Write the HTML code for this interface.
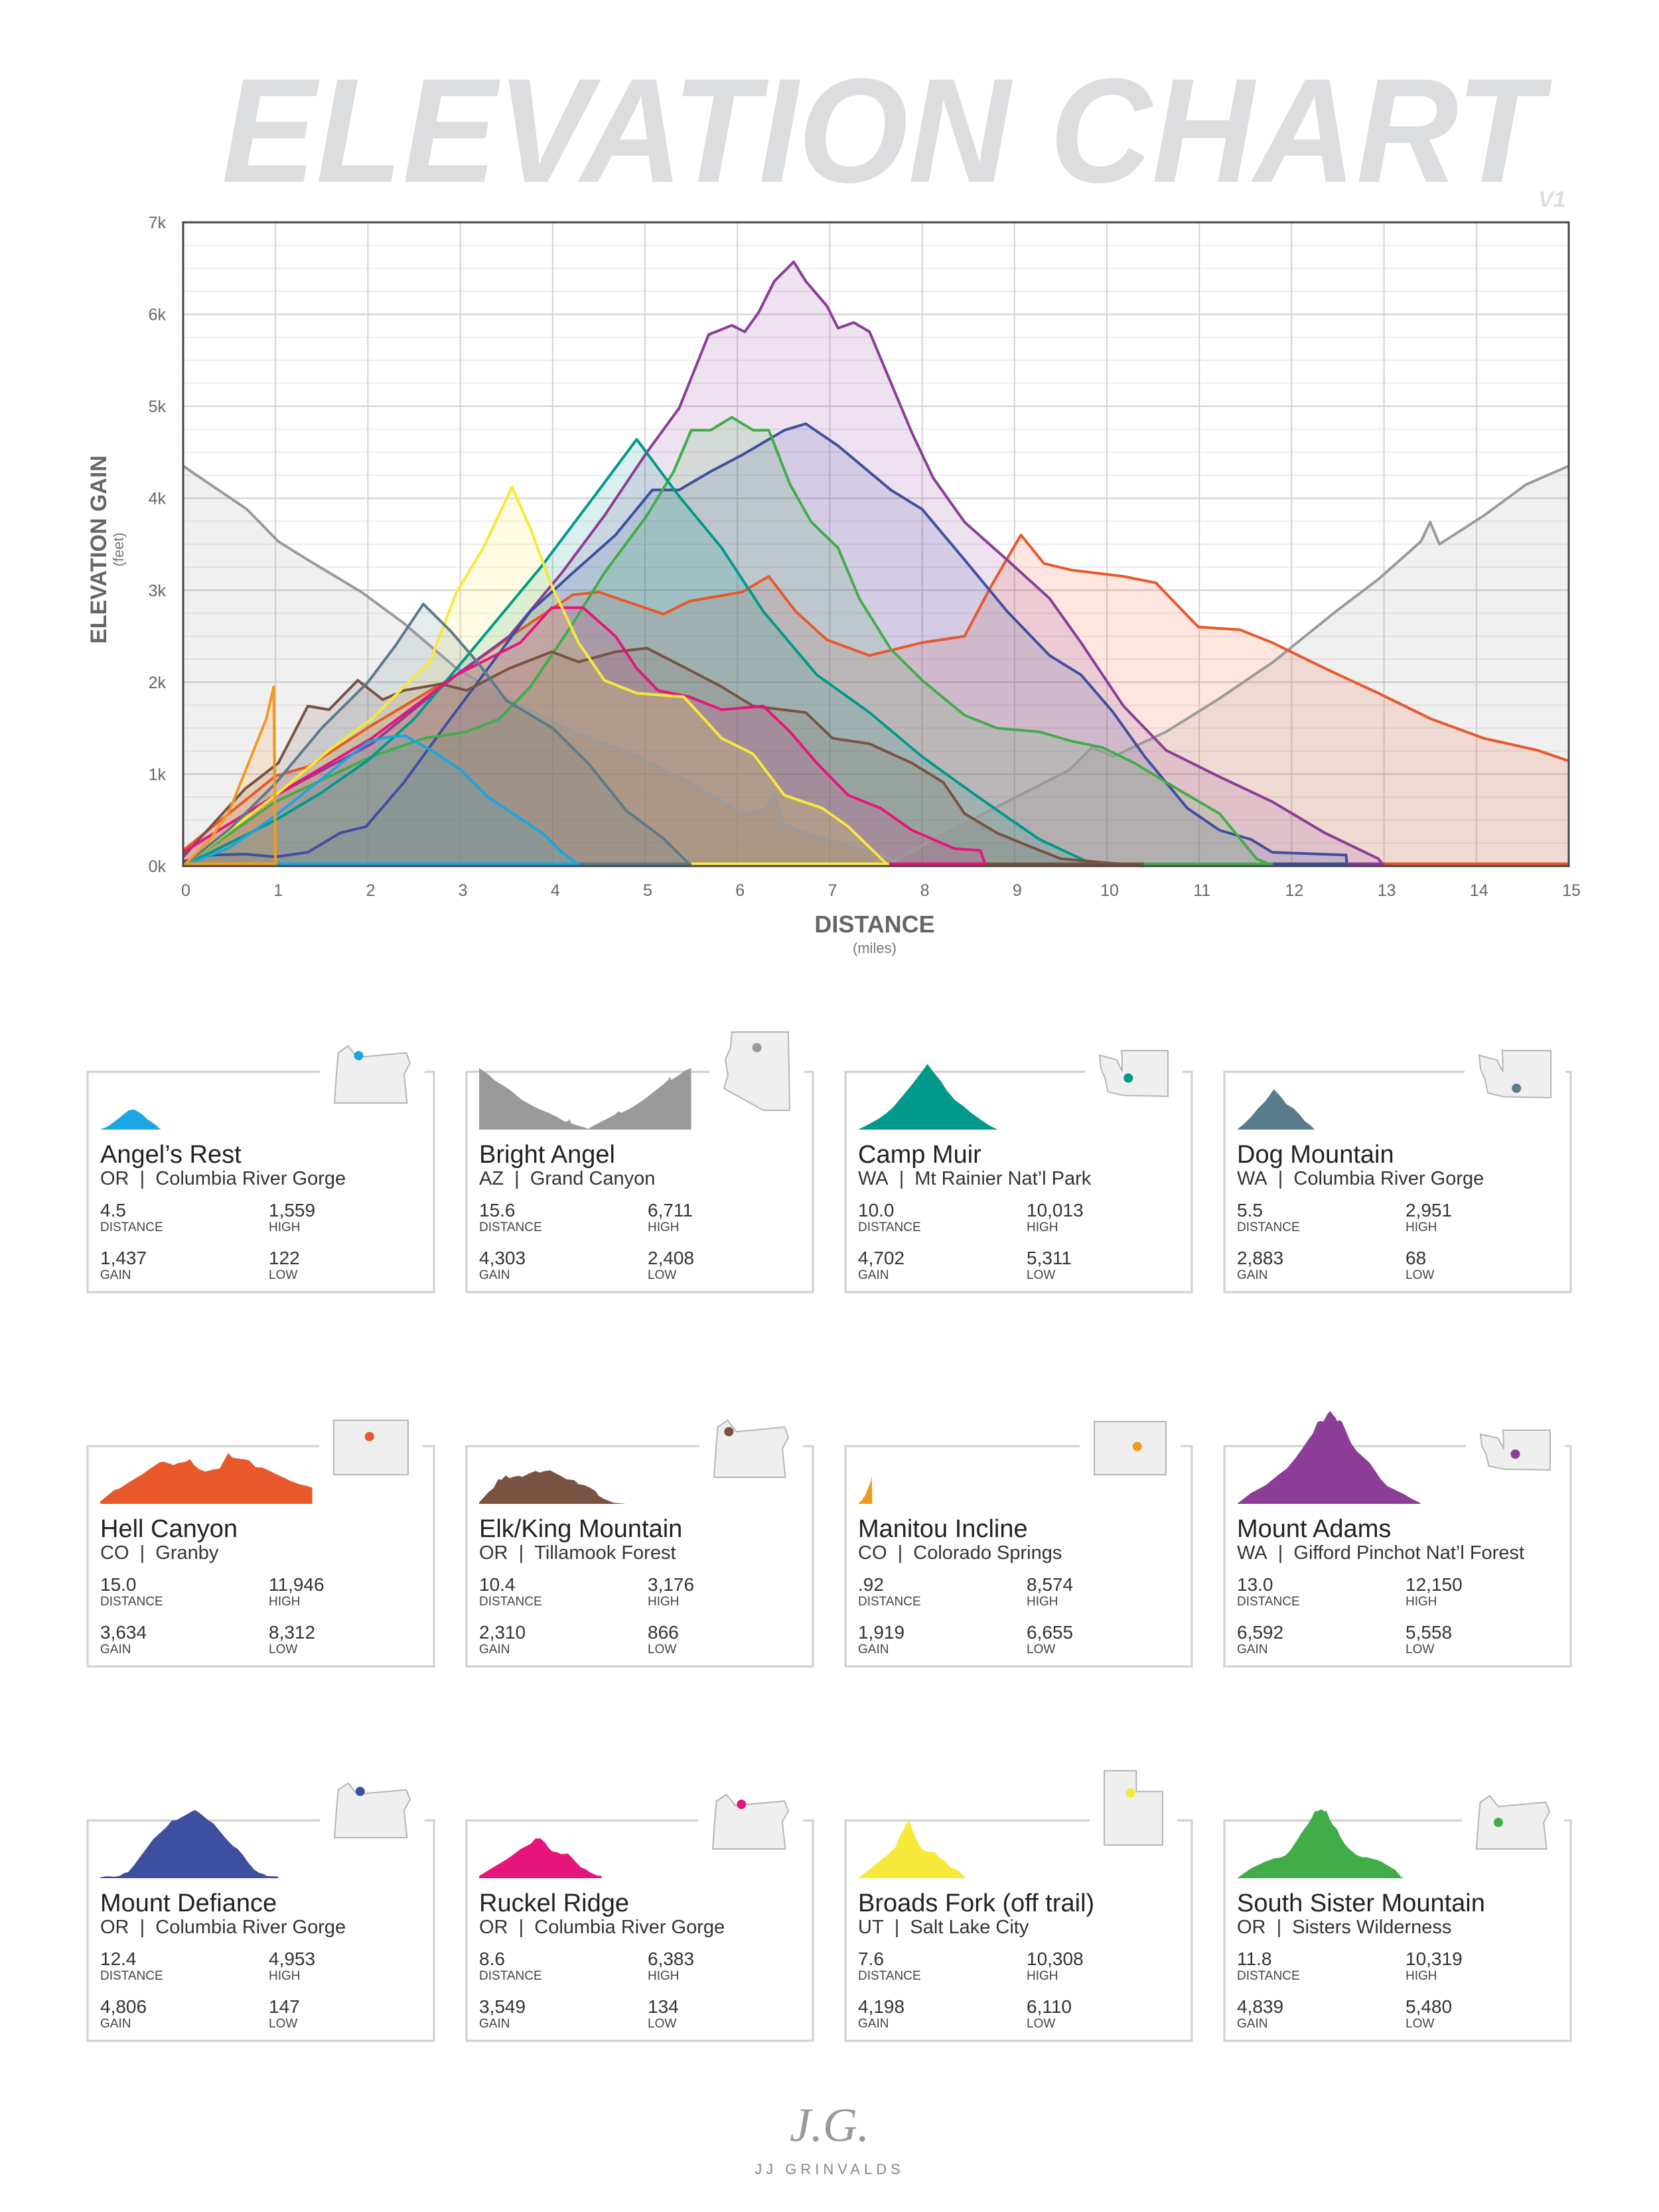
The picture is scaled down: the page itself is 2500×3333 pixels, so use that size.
<!DOCTYPE html>
<html><head><meta charset="utf-8"><title>Elevation Chart</title>
<style>
html,body{margin:0;padding:0;background:#fff;}
svg{display:block;font-family:"Liberation Sans",sans-serif;}
</style></head>
<body>
<svg id="root" width="2500" height="3333" viewBox="0 0 2500 3333" xmlns="http://www.w3.org/2000/svg">
<text x="334" y="274" font-size="224" font-weight="bold" font-style="italic" fill="#dcdddf" textLength="1990" lengthAdjust="spacingAndGlyphs">ELEVATION CHART</text>
<text x="2318" y="312" font-size="34" font-weight="bold" font-style="italic" fill="#dcdddf">V1</text>
<g id="chart"></g>
<g id="cards"></g>
<g>
<text x="1250" y="3226" text-anchor="middle" font-family="'Liberation Serif',serif" font-style="italic" font-size="72" fill="#999">J.G.</text>
<text x="1250" y="3276" text-anchor="middle" font-size="22" letter-spacing="6" fill="#888">JJ GRINVALDS</text>
</g>
</svg>
<script>
// ---- chart data (distance miles, elevation gain in k ft) ----
const yTicks = ["0k","1k","2k","3k","4k","5k","6k","7k"];
const xTicks = ["0","1","2","3","4","5","6","7","8","9","10","11","12","13","14","15"];

const brightAngelX = [0,0.69,1.03,1.35,1.93,2.39,2.96,3.53,4.22,4.91,5.48,6.05,6.3,6.4,6.5,6.74,7.2,7.55,7.7,8.12,8.92,9.6,9.84,10.07,10.64,11.2,11.8,12.48,12.94,13.4,13.5,13.6,14.08,14.54,15];
const brightAngelY = [4.35,3.88,3.53,3.33,2.98,2.64,2.15,1.81,1.46,1.19,0.91,0.57,0.6,0.77,0.45,0.36,0.22,0.12,0.05,0.29,0.7,1.05,1.29,1.19,1.46,1.81,2.22,2.77,3.12,3.53,3.74,3.5,3.81,4.15,4.35];
const hellCanyonX = [0,1.0,1.35,2.04,2.96,3.65,4.22,4.5,4.91,5.2,5.48,6.05,6.34,6.63,6.97,7.43,8.0,8.46,8.75,9.07,9.32,9.61,10.18,10.53,10.76,10.99,11.44,11.79,12.36,12.94,13.51,14.08,14.66,14.98,15];
const hellCanyonY = [0.17,0.98,1.08,1.53,2.08,2.57,2.95,2.98,2.84,2.74,2.88,2.98,3.15,2.77,2.46,2.29,2.43,2.5,3.05,3.6,3.29,3.22,3.15,3.08,2.84,2.6,2.57,2.43,2.15,1.88,1.6,1.39,1.26,1.15,1.15];
const mountAdamsX = [0,1.0,2.04,2.96,3.53,4.1,4.56,5.02,5.37,5.69,5.94,6.08,6.23,6.4,6.61,6.74,6.97,7.09,7.26,7.43,7.66,7.89,8.12,8.46,8.92,9.38,9.72,10.18,10.64,11.2,11.79,12.36,12.94,13.0];
const mountAdamsY = [0,0.77,1.33,2.08,2.5,3.19,3.81,4.5,4.98,5.78,5.88,5.81,6.02,6.36,6.57,6.36,6.09,5.85,5.91,5.81,5.26,4.71,4.22,3.74,3.33,2.91,2.43,1.74,1.26,0.98,0.7,0.36,0.08,0];
const mountDefianceX = [0,0.32,0.67,1.0,1.35,1.7,1.98,2.39,2.84,3.3,3.76,4.22,4.68,5.08,5.37,5.71,6.05,6.51,6.74,7.09,7.66,8.0,8.46,8.92,9.38,9.72,10.07,10.41,10.87,11.22,11.56,11.79,12.59,12.6];
const mountDefianceY = [0.05,0.12,0.13,0.1,0.15,0.36,0.43,0.91,1.53,2.15,2.77,3.19,3.6,4.09,4.09,4.29,4.47,4.74,4.81,4.57,4.09,3.88,3.33,2.77,2.29,2.08,1.67,1.19,0.63,0.39,0.29,0.15,0.12,0];
const southSisterX = [0,1.0,2.04,2.61,3.07,3.42,3.76,4.22,4.56,5.02,5.31,5.5,5.71,5.94,6.17,6.34,6.57,6.8,7.09,7.32,7.66,8.0,8.46,8.81,9.27,9.61,9.95,10.3,10.76,11.22,11.62,11.8];
const southSisterY = [0,0.7,1.19,1.39,1.46,1.6,1.95,2.64,3.19,3.81,4.29,4.74,4.74,4.88,4.74,4.74,4.15,3.74,3.46,2.91,2.36,2.02,1.64,1.5,1.46,1.36,1.29,1.12,0.84,0.57,0.08,0];
const campMuirX = [0,0.5,1.0,1.5,2.0,2.5,3.02,3.5,3.88,4.45,4.91,5.37,5.83,6.28,6.86,7.43,8.0,8.58,9.27,9.72,9.9];
const campMuirY = [0,0.25,0.5,0.8,1.15,1.6,2.22,2.8,3.26,4.02,4.64,4.02,3.46,2.77,2.08,1.67,1.19,0.77,0.29,0.08,0];
const elkKingX = [0,0.67,1.03,1.35,1.58,1.89,2.16,2.39,2.79,3.07,3.53,3.99,4.28,4.68,5.02,5.37,5.83,6.17,6.74,7.03,7.43,7.89,8.23,8.46,8.81,9.15,9.5,10.4];
const elkKingY = [0.1,0.84,1.12,1.74,1.7,2.02,1.81,1.91,1.98,1.91,2.15,2.33,2.22,2.33,2.37,2.19,1.95,1.74,1.67,1.39,1.33,1.12,0.91,0.57,0.36,0.22,0.08,0];
const ruckelX = [0,1.0,2.04,2.96,3.65,3.99,4.33,4.68,4.91,5.14,5.48,5.83,6.28,6.57,6.86,7.2,7.55,7.89,8.35,8.63,8.69];
const ruckelY = [0.15,0.77,1.39,2.08,2.43,2.81,2.81,2.5,2.15,1.91,1.84,1.7,1.74,1.46,1.12,0.77,0.63,0.39,0.19,0.17,0];
const broadsForkX = [0,1.0,1.58,2.04,2.39,2.67,2.96,3.25,3.56,3.76,3.99,4.28,4.56,4.91,5.42,5.83,6.17,6.51,6.92,7.2,7.64];
const broadsForkY = [0,0.77,1.26,1.6,1.95,2.22,2.98,3.46,4.12,3.67,3.05,2.43,2.02,1.88,1.84,1.39,1.22,0.77,0.63,0.43,0];
const dogMountainX = [0,0.5,1.0,1.5,2.0,2.3,2.6,2.9,3.2,3.5,4.0,4.4,4.8,5.2,5.5];
const dogMountainY = [0,0.4,0.9,1.5,2.0,2.4,2.85,2.55,2.2,1.8,1.5,1.1,0.6,0.3,0];
const angelsRestX = [0,0.5,1.0,1.5,2.0,2.2,2.4,2.7,3.0,3.3,3.6,3.9,4.1,4.3];
const angelsRestY = [0,0.2,0.55,0.95,1.35,1.4,1.42,1.25,1.05,0.75,0.55,0.35,0.15,0];
const manitouX = [0,0.3,0.5,0.7,0.9,0.98,1.0];
const manitouY = [0,0.3,0.6,1.1,1.6,1.95,0];

const seriesNames = ["bright-angel","hell-canyon","mount-adams","mount-defiance","south-sister","camp-muir","elk-king","ruckel-ridge","broads-fork","dog-mountain","angels-rest","manitou-incline"];
const seriesColors = ["#9a9a9a","#e8582a","#8b3d98","#3f4fa0","#41ad49","#00998a","#7a5242","#e6157b","#f7e83a","#5a7b8b","#1aa6e1","#f29a1f"];
const seriesXs = [brightAngelX,hellCanyonX,mountAdamsX,mountDefianceX,southSisterX,campMuirX,elkKingX,ruckelX,broadsForkX,dogMountainX,angelsRestX,manitouX];
const seriesYs = [brightAngelY,hellCanyonY,mountAdamsY,mountDefianceY,southSisterY,campMuirY,elkKingY,ruckelY,broadsForkY,dogMountainY,angelsRestY,manitouY];

// ---- card data ----
const cardNames = ["Angel\u2019s Rest","Bright Angel","Camp Muir","Dog Mountain","Hell Canyon","Elk/King Mountain","Manitou Incline","Mount Adams","Mount Defiance","Ruckel Ridge","Broads Fork (off trail)","South Sister Mountain"];
const cardStates = ["OR","AZ","WA","WA","CO","OR","CO","WA","OR","OR","UT","OR"];
const cardAreas = ["Columbia River Gorge","Grand Canyon","Mt Rainier Nat\u2019l Park","Columbia River Gorge","Granby","Tillamook Forest","Colorado Springs","Gifford Pinchot Nat\u2019l Forest","Columbia River Gorge","Columbia River Gorge","Salt Lake City","Sisters Wilderness"];
const cardDistance = ["4.5","15.6","10.0","5.5","15.0","10.4",".92","13.0","12.4","8.6","7.6","11.8"];
const cardHigh = ["1,559","6,711","10,013","2,951","11,946","3,176","8,574","12,150","4,953","6,383","10,308","10,319"];
const cardGain = ["1,437","4,303","4,702","2,883","3,634","2,310","1,919","6,592","4,806","3,549","4,198","4,839"];
const cardLow = ["122","2,408","5,311","68","8,312","866","6,655","5,558","147","134","6,110","5,480"];
const cardSeries = [10,0,5,9,1,6,11,2,3,7,8,4];

const NS="http://www.w3.org/2000/svg";
function mk(tag,attrs,parent){const e=document.createElementNS(NS,tag);for(const k in attrs)e.setAttribute(k,attrs[k]);parent.appendChild(e);return e;}

const PL=276,PR=2364,PT=335,PB=1305;
const xMax=15,yMax=7;
function X(d){return PL+(PR-PL)*d/xMax;}
function Y(v){return PB-(PB-PT)*v/yMax;}

const chart=document.getElementById('chart');
mk('rect',{x:PL,y:PT,width:PR-PL,height:PB-PT,fill:'#fff'},chart);
for(let q=1;q<yMax*4;q++){ if(q%4===0)continue;
  const l=mk('line',{x1:PL,x2:PR,y1:Y(q/4),y2:Y(q/4),stroke:'#ececec','stroke-width':2},chart);
  
  
}
yTicks.forEach((t,i)=>{
  const l=mk('line',{x1:PL,x2:PR,y1:Y(i),y2:Y(i),stroke:'#cfcfcf','stroke-width':2},chart);
  
  
  const tx=mk('text',{x:250,y:Y(i)+9,'text-anchor':'end','font-size':25,fill:'#666'},chart);
  tx.textContent=t;
  
  
});
xTicks.forEach((t,i)=>{
  const l=mk('line',{x1:X(i),x2:X(i),y1:PT,y2:PB,stroke:'#d3d3d3','stroke-width':2},chart);
  
  
  const tx=mk('text',{x:X(i)+4,y:1350,'text-anchor':'middle','font-size':25,fill:'#666'},chart);
  tx.textContent=t;
  
  
});

function pathFor(xs,ys,fx,fy){let d='';for(let i=0;i<xs.length;i++)d+=(i?'L':'M')+fx(xs[i]).toFixed(1)+' '+fy(ys[i]).toFixed(1);return d;}

seriesXs.forEach((xs,s)=>{
  const ys=seriesYs[s];
  const area=pathFor(xs,ys,X,Y)+'L'+X(xs[xs.length-1]).toFixed(1)+' '+Y(0)+'L'+X(xs[0])+' '+Y(0)+'Z';
  const a=mk('path',{d:area,fill:seriesColors[s],'fill-opacity':0.15,stroke:'none'},chart);
  
  
});
seriesXs.forEach((xs,s)=>{
  const ys=seriesYs[s];
  const ln=mk('path',{d:pathFor(xs,ys,X,Y),fill:'none',stroke:seriesColors[s],'stroke-width':4,'stroke-linejoin':'round'},chart);
  
  
  const b=mk('line',{x1:X(xs[0]),x2:X(xs[xs.length-1]),y1:Y(0)-3,y2:Y(0)-3,stroke:seriesColors[s],'stroke-width':5},chart);
  
  
});
mk('path',{d:`M${PL} ${PB}V${PT}H${PR}V${PB}Z`,fill:'none',stroke:'#444','stroke-width':3},chart);

let t=mk('text',{x:1318,y:1405,'text-anchor':'middle','font-size':36,'font-weight':'bold',fill:'#666'},chart);
t.textContent='DISTANCE';


t=mk('text',{x:1318,y:1436,'text-anchor':'middle','font-size':22,fill:'#777'},chart);
t.textContent='(miles)';


t=mk('text',{x:0,y:0,'text-anchor':'middle','font-size':34,'font-weight':'bold',fill:'#666',transform:'translate(160 828) rotate(-90)'},chart);
t.textContent='ELEVATION GAIN';


t=mk('text',{x:0,y:0,'text-anchor':'middle','font-size':22,fill:'#777',transform:'translate(186 828) rotate(-90)'},chart);
t.textContent='(feet)';



const statePolys={
 OR:[[0.05,0.12],[0.18,0],[0.3,0.2],[0.55,0.17],[0.95,0.12],[1,0.3],[0.92,0.5],[0.96,1],[0,1],[0.02,0.6]],
 WA:[[0,0.1],[0.25,0.2],[0.33,0.45],[0.33,0.15],[0.32,0],[1,0],[1,1],[0.35,0.98],[0.12,0.9],[0.08,0.6],[0.02,0.4]],
 AZ:[[0.12,0],[0.98,0],[1,1],[0.6,1],[0,0.72],[0.06,0.55],[0.02,0.35],[0.1,0.2]],
 CO:[[0,0],[1,0],[1,1],[0,1]],
 UT:[[0,0],[0.55,0],[0.55,0.28],[1,0.28],[1,1],[0,1]]
};
const mapBoxes=[[372,-39,114,86,0.32,0.17],[388,-60,99,118,0.5,0.2],[383,-32,103,69,0.42,0.6],[384,-32,108,71,0.52,0.8],
[371,-39,112,82,0.48,0.3],[373,-39,112,86,0.2,0.2],[375,-37,108,80,0.6,0.47],[386,-24,105,60,0.5,0.6],
[372,-56,114,82,0.34,0.15],[371,-39,114,82,0.38,0.18],[390,-75,88,112,0.45,0.3],[380,-37,110,80,0.3,0.5]];
const cardsG=document.getElementById('cards');
const CW=522,CH=332;
cardNames.forEach((nm,i)=>{
  const col=i%4,row=Math.floor(i/4);
  const cx=132+col*571, cy=1615+row*564;
  const g=mk('g',{transform:`translate(${cx} ${cy})`},cardsG);
  
  
  const mb=mapBoxes[i];
  mk('rect',{x:0,y:0,width:CW,height:CH,fill:'#fff'},g);
  const br=mk('path',{d:`M${mb[0]-22} 0H0V${CH}H${CW}V0H${mb[0]+mb[2]+22}`,fill:'none',stroke:'#cfcfcf','stroke-width':3},g);
  
  
  const s=cardSeries[i], xs=seriesXs[s], ys=seriesYs[s];
  const sx=d=>19+d*21.3, sy=v=>87-v*21.3;
  const sil=mk('path',{d:pathFor(xs,ys,sx,sy)+`L${sx(xs[xs.length-1])} 87L${sx(xs[0])} 87Z`,fill:seriesColors[s]},g);
  
  
  const pts=statePolys[cardStates[i]].map(p=>(mb[0]+p[0]*mb[2]).toFixed(1)+','+(mb[1]+p[1]*mb[3]).toFixed(1)).join(' ');
  const mp=mk('polygon',{points:pts,fill:'#efefef',stroke:'#b5b5b5','stroke-width':2},g);
  
  
  const dot=mk('circle',{cx:mb[0]+mb[4]*mb[2],cy:mb[1]+mb[5]*mb[3],r:7,fill:seriesColors[s]},g);
  
  
  let tx=mk('text',{x:19,y:137,'font-size':38,fill:'#222'},g);
  tx.textContent=nm;
  
  
  tx=mk('text',{x:19,y:170,'font-size':29,fill:'#333'},g);
  tx.textContent=cardStates[i]+'\u00a0\u00a0|\u00a0\u00a0'+cardAreas[i];
  
  
  const stats=[[cardDistance[i],'DISTANCE',19,218],[cardHigh[i],'HIGH',273,218],[cardGain[i],'GAIN',19,290],[cardLow[i],'LOW',273,290]];
  stats.forEach(st=>{
    let v=mk('text',{x:st[2],y:st[3],'font-size':28,fill:'#333'},g);
    v.textContent=st[0];
    
    
    let lb=mk('text',{x:st[2],y:st[3]+22,'font-size':19,fill:'#444'},g);
    lb.textContent=st[1];
    
    
  });
});
</script>
</body></html>
